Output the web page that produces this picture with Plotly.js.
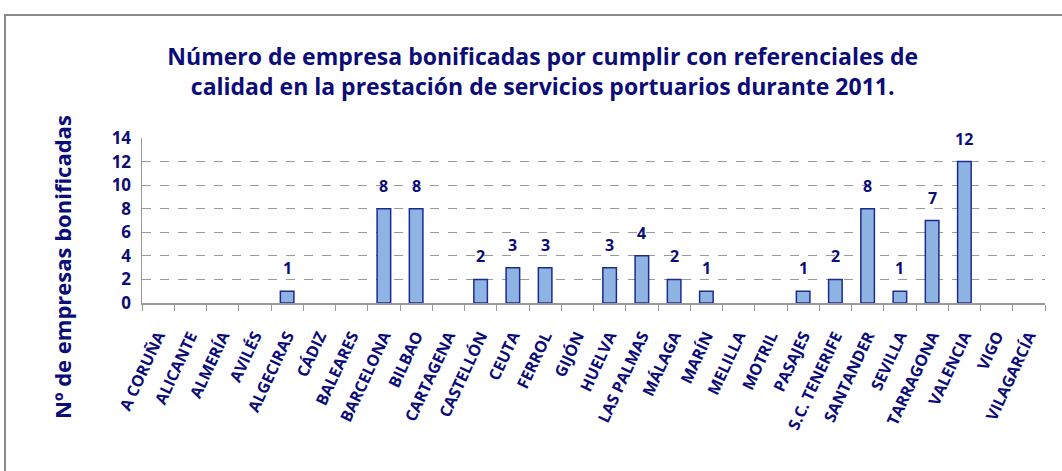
<!DOCTYPE html>
<html><head><meta charset="utf-8">
<script src="https://cdn.plot.ly/plotly-3.0.1.min.js"></script>
<style>html,body{margin:0;padding:0;background:#fff;}#chart{width:1062px;height:471px;}</style>
</head><body><div id="chart"></div>
<script>
const puertos = ["A CORUÑA","ALICANTE","ALMERÍA","AVILÉS","ALGECIRAS","CÁDIZ","BALEARES","BARCELONA","BILBAO","CARTAGENA","CASTELLÓN","CEUTA","FERROL","GIJÓN","HUELVA","LAS PALMAS","MÁLAGA","MARÍN","MELILLA","MOTRIL","PASAJES","S.C. TENERIFE","SANTANDER","SEVILLA","TARRAGONA","VALENCIA","VIGO","VILAGARCÍA"];
const empresas = [0,0,0,0,1,0,0,8,8,0,2,3,3,0,3,4,2,1,0,0,1,2,8,1,7,12,0,0];
const yTicks = [0,2,4,6,8,10,12,14];

const navy = '#0c0c78';
const fam = '"Open Sans", sans-serif';
const trace = {
  type: 'bar', x: puertos, y: empresas,
  marker: {color: '#8eb4e3', line: {color: '#1f2a8f', width: empresas.map(v => v > 0 ? 1.5 : 0)}},
  hoverinfo: 'x+y'
};
const labelAnns = puertos.map((p, i) => ({x: p, y: empresas[i], text: String(empresas[i]), xref: 'x', yref: 'y',
  showarrow: false, yanchor: 'middle', yshift: 23,
  font: {family: fam, size: 16, color: navy, weight: 'bold'}})).filter((a, i) => empresas[i] > 0);
const layout = {
  width: 1062, height: 471,
  margin: {l: 142, r: 17, t: 138, b: 168},
  paper_bgcolor: '#fff', plot_bgcolor: '#fff',
  bargap: 0.58, showlegend: false,
  font: {family: fam, color: navy},
  title: {text: 'Número de empresa bonificadas por cumplir con referenciales de<br>calidad en la prestación de servicios portuarios durante 2011.',
    font: {family: fam, size: 23, color: navy, weight: 'bold'},
    x: 0.511, xanchor: 'center', y: 0.862, yanchor: 'top'},
  xaxis: {type: 'category', tickangle: -65, tickson: 'boundaries', ticks: 'outside', ticklen: 6,
    tickcolor: '#999', showline: true, linecolor: '#999', linewidth: 1.5, showgrid: false,
    ticklabelstandoff: 16,
    tickfont: {family: fam, size: 16, color: navy, weight: 'bold'}, automargin: false},
  yaxis: {range: [0, 14], tickvals: yTicks, ticktext: yTicks.map(String), ticks: '', showline: true,
    linecolor: '#999', linewidth: 1.5, showgrid: true, gridcolor: '#999', griddash: 'dash', gridwidth: 1,
    zeroline: false, ticklabelstandoff: 6,
    tickfont: {family: fam, size: 17, color: navy, weight: 'bold'}, automargin: false},
  annotations: labelAnns.concat([{text: 'Nº de empresas bonificadas', textangle: -90, xref: 'paper', yref: 'paper',
    x: (62 - 142) / 903, y: (303 - 267) / 165, xanchor: 'center', yanchor: 'middle', showarrow: false,
    font: {family: fam, size: 22, color: navy, weight: 'bold'}}]),
  shapes: [{type: 'rect', xref: 'paper', yref: 'paper', x0: -0.1517, x1: 1.2, y0: -1.5, y1: 1.745,
    line: {color: '#8a8a8a', width: 2}, fillcolor: 'rgba(0,0,0,0)', layer: 'below'}]
};
Plotly.newPlot('chart', [trace], layout, {displayModeBar: false, staticPlot: true});
</script></body></html>
